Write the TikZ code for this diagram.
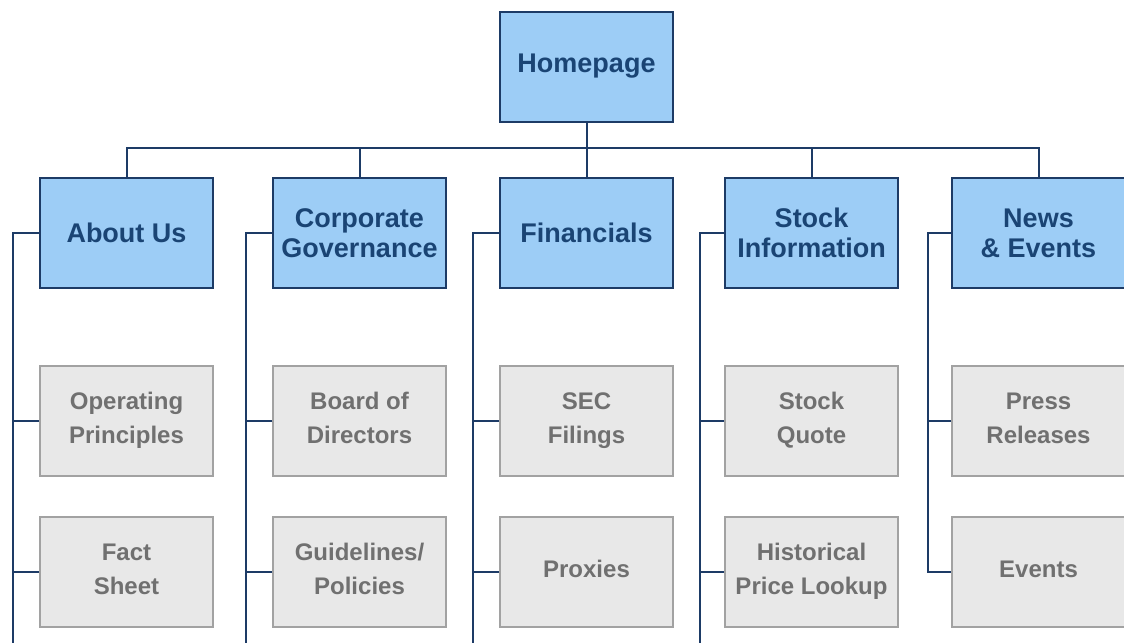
\documentclass[tikz,border=0pt]{standalone}
\usepackage{fontspec}
\setmainfont{Liberation Sans}
\definecolor{navy}{HTML}{1D3B66}
\definecolor{boxblue}{HTML}{9DCDF6}
\definecolor{textblue}{HTML}{1A4474}
\definecolor{boxgray}{HTML}{E8E8E8}
\definecolor{linegray}{HTML}{A2A2A2}
\definecolor{textgray}{HTML}{707070}
\newcommand\capstrut{\rule{0pt}{8.6pt}}
\newcommand\descstrut{\rule[-2.6pt]{0pt}{2.6pt}}
\begin{document}
\begin{tikzpicture}[x=0.5pt,y=-0.5pt,
    topbox/.style={draw=navy, line width=1pt, fill=boxblue, text=textblue,
      minimum width=86.5pt, minimum height=55pt, inner sep=0pt, align=center,
      font=\fontsize{13.5}{15}\selectfont\bfseries},
    subbox/.style={draw=linegray, line width=1pt, fill=boxgray, text=textgray,
      minimum width=86.5pt, minimum height=55pt, inner sep=0pt, align=center,
      font=\fontsize{12}{17}\selectfont\bfseries,
      execute at begin node=\capstrut, execute at end node=\descstrut},
    wire/.style={navy, line width=1pt}]
        \useasboundingbox (0,0) rectangle (1124,643);

        \node[topbox] (home) at (586.5,66.5) {Homepage};
        \node[topbox] (about) at (126.5,233) {About Us};
        \node[topbox] (corp) at (359.5,233) {Corporate\\Governance};
        \node[topbox] (fin) at (586.5,233) {Financials};
        \node[topbox] (stock) at (811.5,233) {Stock\\Information};
        \node[topbox] (news) at (1038.5,233) {News\\\& Events};

        \node[subbox] (principles) at (126.5,420.5) {Operating\\Principles};
        \node[subbox] (facts) at (126.5,571.5) {Fact\\Sheet};
        \node[subbox] (board) at (359.5,420.5) {Board of\\Directors};
        \node[subbox] (policies) at (359.5,571.5) {Guidelines/\\Policies};
        \node[subbox] (sec) at (586.5,420.5) {SEC\\Filings};
        \node[subbox] (proxies) at (586.5,571.5) {Proxies};
        \node[subbox] (quote) at (811.5,420.5) {Stock\\Quote};
        \node[subbox] (lookup) at (811.5,571.5) {Historical\\Price Lookup};
        \node[subbox] (press) at (1038.5,420.5) {Press\\Releases};
        \node[subbox] (events) at (1038.5,571.5) {Events};

        \coordinate (bus) at (0,148);
        \coordinate (about-end) at (13,643);
        \coordinate (corp-end) at (246,643);
        \coordinate (fin-end) at (473,643);
        \coordinate (stock-end) at (700,643);
        \coordinate (news-end) at (928,571.5);

        % top level
        \draw[wire] (home.south) -- (home.south |- bus);
        \draw[wire] (about.north) |- (bus -| news.north) -- (news.north);
        \foreach \n in {corp, fin, stock}
          \draw[wire] (\n.north) -- (\n.north |- bus);

        % section trunks
        \draw[wire] (about.west) -| (about-end);
        \draw[wire] (corp.west) -| (corp-end);
        \draw[wire] (fin.west) -| (fin-end);
        \draw[wire] (stock.west) -| (stock-end);
        \draw[wire] (news.west) -| (news-end) -- (events.west);

        % pages
        \draw[wire] (principles.west) -- (principles.west -| about-end);
        \draw[wire] (facts.west) -- (facts.west -| about-end);
        \draw[wire] (board.west) -- (board.west -| corp-end);
        \draw[wire] (policies.west) -- (policies.west -| corp-end);
        \draw[wire] (sec.west) -- (sec.west -| fin-end);
        \draw[wire] (proxies.west) -- (proxies.west -| fin-end);
        \draw[wire] (quote.west) -- (quote.west -| stock-end);
        \draw[wire] (lookup.west) -- (lookup.west -| stock-end);
        \draw[wire] (press.west) -- (press.west -| news-end);
      \end{tikzpicture}
\end{document}
